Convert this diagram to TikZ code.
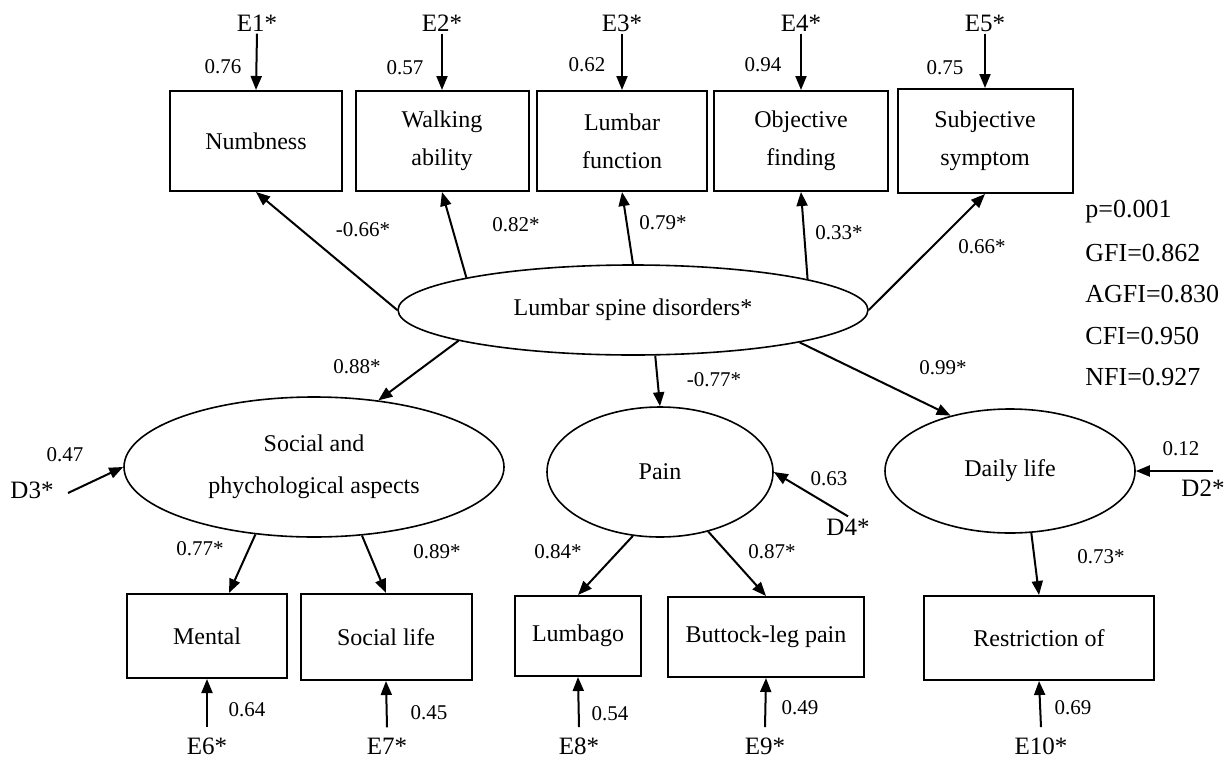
\documentclass[tikz,border=0pt]{standalone}
\usepackage{fontspec}
\setmainfont{Liberation Serif}
\usepackage{tikz}
\usetikzlibrary{shapes.geometric, arrows.meta, positioning}
\tikzset{
  obsbox/.style={rectangle, draw, line width=1pt, minimum height=50pt,
    align=center, inner sep=2pt, font=\fontsize{12}{19}\selectfont},
  latent/.style={ellipse, draw, line width=0.8pt, inner sep=0pt,
    align=center, font=\fontsize{12}{21}\selectfont},
  arrow/.style={-{Triangle[length=7pt,width=5.5pt]}, line width=1pt},
  coef/.style={inner sep=1pt, font=\fontsize{10.5}{12}\selectfont},
  errlbl/.style={inner sep=1pt, font=\fontsize{12.5}{13}\selectfont},
  fitlbl/.style={inner sep=0pt, anchor=west, font=\fontsize{13}{14}\selectfont}
}

\begin{document}
\begin{tikzpicture}[x=0.5pt, y=-0.5pt]
  \useasboundingbox (0,0) rectangle (1225,760);

  % Lumbar spine disorders
  \node[latent, minimum width=235pt, minimum height=45pt] (lsd) at (633,310) {Lumbar spine disorders*};

  % Top indicators
  \node[obsbox, minimum width=86pt] (numb) at (256,141) {Numbness};
  \node[obsbox, minimum width=86.5pt] (walk) at (442,141) {Walking\\ability};
  \node[obsbox, minimum width=85pt] (lumbfn) at (622,141) {Lumbar\\function};
  \node[obsbox, minimum width=87pt] (objfind) at (801,141) {Objective\\finding};
  \node[obsbox, minimum width=87.5pt, minimum height=52pt] (subjsym) at (985,141) {Subjective\\symptom};

  \node[errlbl] (e1) at (257,23) {E1*};
  \node[errlbl] (e2) at (442,23) {E2*};
  \node[errlbl] (e3) at (622,23) {E3*};
  \node[errlbl] (e4) at (801,23) {E4*};
  \node[errlbl] (e5) at (985,23) {E5*};
  \draw[arrow] (e1.south) -- (numb.north);
  \draw[arrow] (e2.south) -- (walk.north);
  \draw[arrow] (e3.south) -- (lumbfn.north);
  \draw[arrow] (e4.south) -- (objfind.north);
  \draw[arrow] (e5.south) -- (subjsym.north);
  \node[coef] at (223,67) {0.76};
  \node[coef] at (405,68) {0.57};
  \node[coef] at (587,65) {0.62};
  \node[coef] at (763,65) {0.94};
  \node[coef] at (945,68) {0.75};

  \draw[arrow] (lsd.west) -- (numb.south);
  \draw[arrow] (lsd.169.4) -- (walk.south);
  \draw[arrow] (lsd.north) -- (lumbfn.south);
  \draw[arrow] (lsd.10.6) -- (objfind.south);
  \draw[arrow] (lsd.east) -- (subjsym.south);
  \node[coef] at (363,230) {-0.66*};
  \node[coef] at (516,225) {0.82*};
  \node[coef] at (663,223) {0.79*};
  \node[coef] at (839,233) {0.33*};
  \node[coef] at (982,247) {0.66*};

  % Fit indices
  \node[fitlbl] at (1085,212) {p=0.001};
  \node[fitlbl] at (1085,253) {GFI=0.862};
  \node[fitlbl] at (1085,294) {AGFI=0.830};
  \node[fitlbl] at (1085,336) {CFI=0.950};
  \node[fitlbl] at (1085,377) {NFI=0.927};

  % Sub factors
  \node[latent, minimum width=190pt, minimum height=70pt] (social) at (314,467) {Social and\\phychological aspects};
  \node[latent, minimum width=113pt, minimum height=65pt] (pain) at (660,472) {Pain};
  \node[latent, minimum width=125pt, minimum height=62pt] (daily) at (1010,471) {Daily life};

  \draw[arrow] (lsd.190.8) -- (social.46);
  \draw[arrow] (lsd.296) -- (pain.north);
  \draw[arrow] (lsd.349) -- (daily.137);
  \node[coef] at (357,367) {0.88*};
  \node[coef] at (714,380) {-0.77*};
  \node[coef] at (943,368) {0.99*};

  % Disturbances
  \node[errlbl] (d3) at (32,490) {D3*};
  \node[errlbl] (d4) at (848,527) {D4*};
  \node[errlbl] (d2) at (1203,488) {D2*};
  \coordinate (d3s) at (68,493);
  \coordinate (d2s) at (1213,471);
  \draw[arrow] (d3s) -- (social.west);
  \draw[arrow] (d4.north) -- (pain.east);
  \draw[arrow] (d2s) -- (daily.east);
  \node[coef] at (65,455) {0.47};
  \node[coef] at (829,479) {0.63};
  \node[coef] at (1181,449) {0.12};

  % Bottom indicators
  \node[obsbox, minimum width=80pt, minimum height=42pt] (mental) at (207,636) {Mental};
  \node[obsbox, minimum width=85.5pt, minimum height=43pt] (soclife) at (386,637) {Social life};
  \node[obsbox, minimum width=63pt, minimum height=40pt] (lumbago) at (578,636) {Lumbago};
  \node[obsbox, minimum width=98pt, minimum height=40pt] (buttock) at (766,637) {Buttock-leg pain};
  \node[obsbox, minimum width=115pt, minimum height=42pt] (restrict) at (1039,638) {Restriction of};

  \draw[arrow] (social.229) -- ([xshift=11pt]mental.north);
  \draw[arrow] (social.305) -- (soclife.north);
  \draw[arrow] (pain.247) -- (lumbago.north);
  \draw[arrow] (pain.309.5) -- (buttock.north);
  \draw[arrow] (daily.289) -- (restrict.north);
  \node[coef] at (200,549) {0.77*};
  \node[coef] at (437,552) {0.89*};
  \node[coef] at (558,552) {0.84*};
  \node[coef] at (772,552) {0.87*};
  \node[coef] at (1101,557) {0.73*};

  \node[errlbl] (e6) at (207,746) {E6*};
  \node[errlbl] (e7) at (387,746) {E7*};
  \node[errlbl] (e8) at (579,746) {E8*};
  \node[errlbl] (e9) at (765,746) {E9*};
  \node[errlbl] (e10) at (1041,746) {E10*};
  \draw[arrow] ([yshift=4pt]e6.north) -- (mental.south);
  \draw[arrow] ([yshift=4pt]e7.north) -- (soclife.south);
  \draw[arrow] ([yshift=4pt]e8.north) -- (lumbago.south);
  \draw[arrow] ([yshift=4pt]e9.north) -- (buttock.south);
  \draw[arrow] ([yshift=4pt]e10.north) -- (restrict.south);
  \node[coef] at (247,710) {0.64};
  \node[coef] at (429,713) {0.45};
  \node[coef] at (610,714) {0.54};
  \node[coef] at (800,708) {0.49};
  \node[coef] at (1073,708) {0.69};
\end{tikzpicture}
\end{document}
